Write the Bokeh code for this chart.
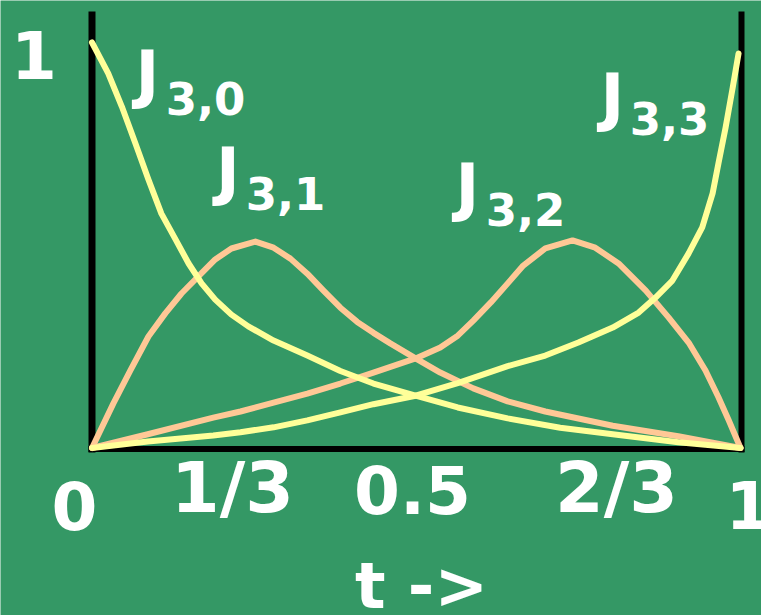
from bokeh.plotting import figure
from bokeh.models import Range1d, Label
from bokeh.embed import file_html
from bokeh.resources import INLINE

# Cubic basis functions J(3,i) sampled over the parameter t
t_j30 = [0.0, 0.025, 0.046, 0.067, 0.087, 0.107, 0.129, 0.149, 0.169, 0.190,
         0.215, 0.241, 0.261, 0.280, 0.332, 0.383, 0.434, 0.499, 0.564, 0.641,
         0.722, 0.803, 0.904, 1.0]
j30 = [1.0, 0.924, 0.842, 0.751, 0.662, 0.578, 0.514, 0.455, 0.406, 0.366,
       0.329, 0.300, 0.282, 0.265, 0.228, 0.190, 0.159, 0.129, 0.100, 0.073,
       0.050, 0.034, 0.014, 0.0]

t_j31 = [0.0, 0.033, 0.059, 0.087, 0.113, 0.138, 0.164, 0.190, 0.215, 0.252,
         0.280, 0.306, 0.332, 0.357, 0.383, 0.409, 0.434, 0.460, 0.499, 0.537,
         0.588, 0.641, 0.699, 0.803, 0.904, 1.0]
j31 = [0.0, 0.110, 0.191, 0.275, 0.332, 0.381, 0.423, 0.465, 0.492, 0.509,
       0.494, 0.467, 0.430, 0.388, 0.346, 0.311, 0.284, 0.258, 0.221, 0.186,
       0.147, 0.115, 0.090, 0.055, 0.029, 0.0]

t_j32 = [0.0, 0.086, 0.187, 0.229, 0.280, 0.332, 0.383, 0.434, 0.499, 0.537,
         0.564, 0.588, 0.615, 0.641, 0.665, 0.699, 0.741, 0.776, 0.812, 0.854,
         0.889, 0.920, 0.946, 0.966, 0.982, 1.0]
j32 = [0.0, 0.034, 0.075, 0.090, 0.112, 0.134, 0.159, 0.186, 0.221, 0.248,
       0.277, 0.314, 0.359, 0.406, 0.450, 0.492, 0.512, 0.494, 0.455, 0.388,
       0.322, 0.260, 0.191, 0.125, 0.068, 0.0]

t_j33 = [0.0, 0.086, 0.187, 0.229, 0.280, 0.332, 0.383, 0.434, 0.499, 0.564,
         0.641, 0.699, 0.750, 0.803, 0.843, 0.869, 0.895, 0.920, 0.941, 0.957,
         0.966, 0.977, 0.988, 0.997]
j33 = [0.0, 0.016, 0.031, 0.039, 0.051, 0.068, 0.088, 0.108, 0.129, 0.160,
       0.202, 0.228, 0.260, 0.297, 0.334, 0.371, 0.413, 0.480, 0.544, 0.628,
       0.702, 0.790, 0.889, 0.973]

x_tick_labels = ["0", "1/3", "0.5", "2/3", "1"]
y_tick_label = "1"
x_title = "t ->"
curve_names = [("J", "3,0"), ("J", "3,1"), ("J", "3,2"), ("J", "3,3")]

# ---- canvas geometry (pixels) ----
W, H = 761, 615
X0, X1 = 91.5, 740.0      # t = 0 and t = 1
Y0, Y1 = 447.5, 42.0      # value 0 and value 1 (from top)
SX, SY = X1 - X0, Y0 - Y1

BG = "#349865"
YELLOW = "#FFFF99"
PEACH = "#FFC896"
FONT = "DejaVu Sans"


def fx(px):
    return (px - X0) / SX


def fy(py):
    return (Y0 - py) / SY


p = figure(width=W, height=H, output_backend="svg", toolbar_location=None,
           x_range=Range1d(fx(0), fx(W)), y_range=Range1d(fy(H), fy(0)),
           x_axis_location=None, y_axis_location=None, min_border=0,
           background_fill_color=BG, border_fill_color=BG,
           outline_line_color=None)
p.grid.visible = False

# frame: two uprights and a base line
p.line([fx(91.5), fx(91.5)], [fy(11), fy(452)], line_color="black", line_width=7)
p.line([fx(741), fx(741)], [fy(11), fy(452)], line_color="black", line_width=6)
p.line([fx(88), fx(744)], [fy(448.5), fy(448.5)], line_color="black", line_width=6)

# basis curves
for tt, vv, col in [(t_j31, j31, PEACH), (t_j32, j32, PEACH),
                    (t_j30, j30, YELLOW), (t_j33, j33, YELLOW)]:
    p.line(tt, vv, line_color=col, line_width=6, line_join="round", line_cap="round")


def add_text(text, px, py, size, align="center"):
    # py is the wanted baseline; the renderer sets glyphs about 0.42 em lower
    p.add_layout(Label(x=fx(px), y=fy(py - 0.42 * size), text=text,
                       text_color="white", text_font=FONT,
                       text_font_style="bold", text_font_size=f"{size}px",
                       text_align=align, text_baseline="alphabetic"))


# tick labels
add_text(y_tick_label, 33.5, 82, 66)
x_label_pos = [(74, 533), (232, 517), (412, 517), (616, 517), (748, 532)]
for lab, (px, py) in zip(x_tick_labels, x_label_pos):
    size = 70 if "/" in lab else 66
    add_text(lab, px, py, size)
add_text(x_title, 421, 612, 64)

# curve names with subscripts
name_pos = [((147, 100), (205, 117)), ((227.5, 197), (285, 212)),
            ((467, 213), (525, 228)), ((612, 123), (669, 137))]
for (main, sub), ((mx, my), (sx, sy)) in zip(curve_names, name_pos):
    add_text(main, mx, my, 64)
    add_text(sub, sx, sy, 45)

open("out.html", "w").write(file_html(p, INLINE))
